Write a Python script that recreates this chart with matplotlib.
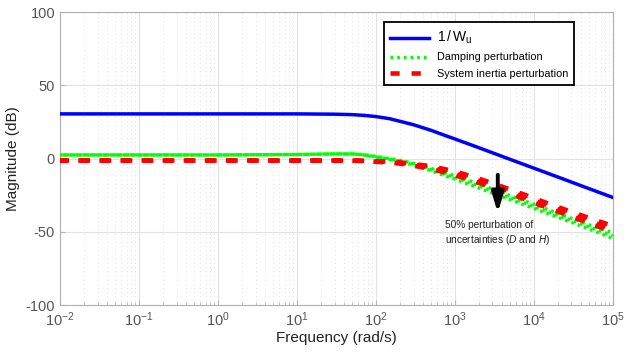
import numpy as np
import matplotlib
matplotlib.use('Agg')
from matplotlib import pyplot as plt

plt.rcParams['font.family'] = ['Liberation Sans', 'DejaVu Sans']
plt.rcParams['mathtext.fontset'] = 'custom'
plt.rcParams['mathtext.rm'] = 'Liberation Sans'
plt.rcParams['mathtext.it'] = 'Liberation Sans:italic'
plt.rcParams['axes.unicode_minus'] = False

# frequency points (rad/s)
freq = [0.01, 0.1, 1, 10, 30, 50, 70, 100, 150, 200, 300, 500, 700,
        1e3, 2e3, 5e3, 1e4, 2e4, 5e4, 1e5]

# 1/Wu magnitude (dB)
inv_wu = [30.5, 30.5, 30.5, 30.5, 30.3, 30.0, 29.5, 28.7, 27.2, 25.5, 23.1, 19.3, 16.4,
          13.4, 7.5, -0.5, -6.5, -12.5, -20.5, -26.5]

# damping perturbation curves (dB)
damp_hi = [2.5, 2.5, 2.5, 2.8, 3.2, 3.2, 2.7, 1.5, 0.0, -1.1, -3.2, -6.7, -9.2,
           -11.6, -17.2, -25.2, -31.2, -37.2, -45.2, -50.7]
damp_mid = [2.5, 2.5, 2.5, 2.8, 3.2, 3.2, 2.6, 1.3, -0.3, -1.5, -3.8, -7.5, -10.2,
            -12.8, -18.6, -26.6, -32.6, -38.6, -46.6, -52.6]
damp_lo = [2.5, 2.5, 2.5, 2.8, 3.2, 3.2, 2.5, 1.1, -0.6, -1.9, -4.4, -8.3, -11.2,
           -14.0, -20.0, -28.0, -34.0, -40.0, -48.0, -54.5]

# system inertia perturbation curves (dB)
iner_hi = [-1.3, -1.3, -1.3, -1.3, -1.3, -1.4, -1.5, -1.8, -2.1, -2.6, -3.7, -5.2, -6.9,
           -8.7, -13.6, -21.0, -27.0, -33.0, -40.5, -46.0]
iner_mid = [-1.3, -1.3, -1.3, -1.3, -1.3, -1.4, -1.5, -2.0, -2.4, -3.0, -4.3, -6.0, -8.0,
            -10.0, -15.0, -22.5, -28.5, -34.5, -42.5, -48.0]
iner_lo = [-1.3, -1.3, -1.3, -1.3, -1.3, -1.4, -1.6, -2.2, -2.7, -3.4, -4.9, -6.9, -9.0,
           -11.2, -16.5, -24.0, -30.0, -36.0, -44.0, -50.0]

fig = plt.figure(figsize=(6.24, 3.54), dpi=100)
ax = fig.add_axes([0.096, 0.138, 0.886, 0.828])

ax.semilogx(freq, inv_wu, color='#0000ff', lw=2.5, label=r'$1\,/\,\mathrm{W}_\mathrm{u}$', zorder=5)
for i, d in enumerate([damp_hi, damp_mid, damp_lo]):
    ax.semilogx(freq, d, color='#00ff00', lw=2.4, linestyle=(i * 0.6, (0.8, 1.2)),
                label='Damping perturbation' if i == 0 else None, zorder=3)
for i, d in enumerate([iner_hi, iner_mid, iner_lo]):
    ax.semilogx(freq, d, color='#ff0000', lw=3.3, linestyle=(i * 0.3, (2.0, 2.6)),
                label='System inertia perturbation' if i == 0 else None, zorder=4)

ax.set_xlim(1e-2, 1e5)
ax.set_ylim(-100, 100)
ax.set_yticks([-100, -50, 0, 50, 100])
ax.set_xticks([1e-2, 1e-1, 1e0, 1e1, 1e2, 1e3, 1e4, 1e5])
ax.grid(True, which='major', color='#e2e2e2', lw=0.8)
ax.grid(True, which='minor', color='#d5d5d5', lw=0.6, linestyle=(0, (1, 4)))
ax.tick_params(which='both', direction='in', colors='#b8b8b8', labelcolor='#555555', labelsize=10.5)
ax.tick_params(which='minor', length=2.5)
for s in ax.spines.values():
    s.set_color('#b0b0b0')

ax.set_xlabel('Frequency (rad/s)', fontsize=11, color='#222222', labelpad=2)
ax.set_ylabel('Magnitude (dB)', fontsize=11, color='#222222')

leg = ax.legend(loc='upper right', bbox_to_anchor=(0.94, 0.983), fontsize=7.8,
                fancybox=False, framealpha=1, edgecolor='black', handlelength=3.6,
                borderpad=0.55, labelspacing=0.6, handletextpad=0.7)
leg.get_frame().set_linewidth(1.3)
leg.get_texts()[0].set_fontsize(10)

ax.annotate('', xy=(3500, -37), xytext=(3500, -11),
            arrowprops=dict(arrowstyle='-|>,head_length=1.0,head_width=0.3',
                            color='black', lw=2.8, mutation_scale=12,
                            shrinkA=0, shrinkB=0), zorder=8)
ax.text(760, -42, '50% perturbation of\nuncertainties ($\\mathit{D}$ and $\\mathit{H}$)',
        fontsize=7.3, color='#222222', va='top', ha='left', linespacing=1.3)

fig.savefig('out.png', dpi=100)
